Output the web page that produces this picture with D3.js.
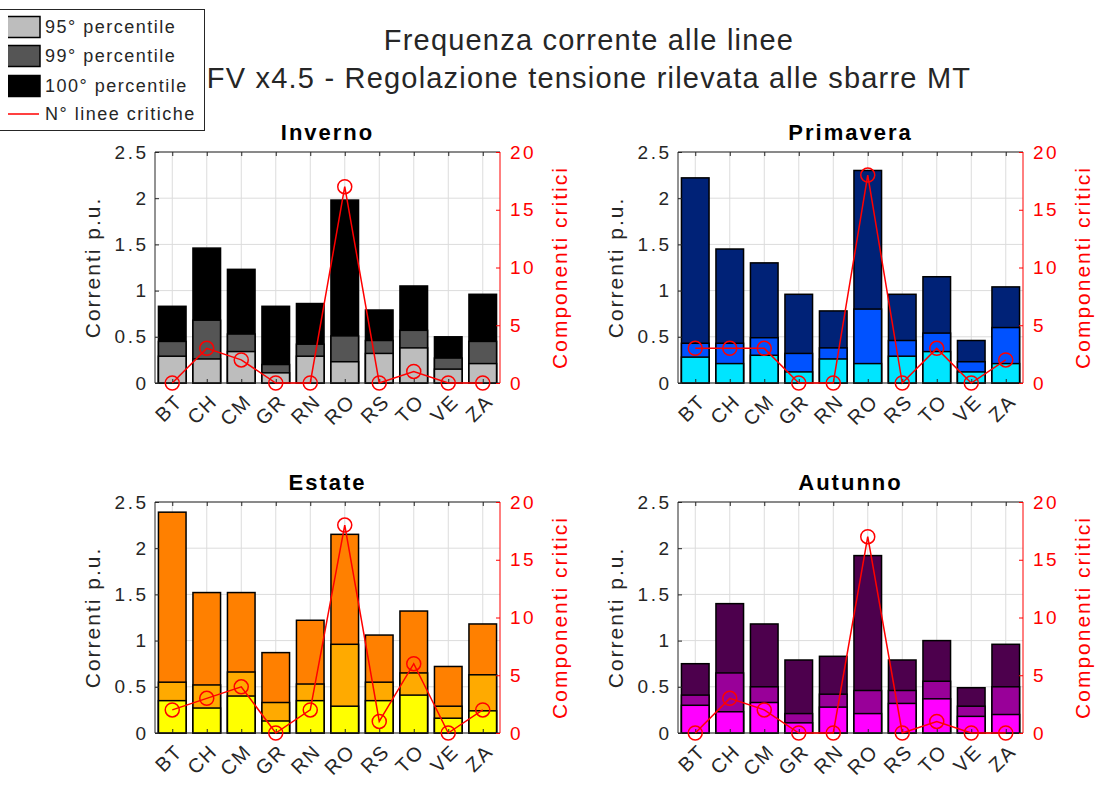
<!DOCTYPE html>
<html>
<head>
<meta charset="utf-8">
<script src="https://cdn.jsdelivr.net/npm/d3@7"></script>
<style>
  body { margin: 0; background: #fff; }
  svg { display: block; }
  text { font-family: "Liberation Sans", Arial, Helvetica, sans-serif; fill: #262626; }
</style>
</head>
<body>
<svg id="chart" width="1099" height="787"></svg>
<script>
// categories and labels
var stations = ["BT", "CH", "CM", "GR", "RN", "RO", "RS", "TO", "VE", "ZA"];
var seasons = ["Inverno", "Primavera", "Estate", "Autunno"];
var yTicks = [0, 0.5, 1, 1.5, 2, 2.5];
var critTicks = [0, 5, 10, 15, 20];
var legendLabels = ["95° percentile", "99° percentile", "100° percentile", "N° linee critiche"];
var titleLines = ["Frequenza corrente alle linee", "FV x4.5 - Regolazione tensione rilevata alle sbarre MT"];

// Inverno
var invP95  = [0.29, 0.26, 0.34, 0.11, 0.29, 0.23, 0.32, 0.38, 0.15, 0.21];
var invP99  = [0.45, 0.68, 0.53, 0.20, 0.42, 0.51, 0.46, 0.57, 0.27, 0.45];
var invP100 = [0.83, 1.46, 1.23, 0.83, 0.86, 1.98, 0.79, 1.05, 0.50, 0.96];
var invCrit = [0, 3, 2, 0, 0, 17, 0, 1, 0, 0];

// Primavera
var priP95  = [0.28, 0.21, 0.30, 0.12, 0.26, 0.21, 0.29, 0.34, 0.12, 0.21];
var priP99  = [0.43, 0.43, 0.49, 0.32, 0.38, 0.80, 0.46, 0.54, 0.23, 0.60];
var priP100 = [2.22, 1.45, 1.30, 0.96, 0.78, 2.30, 0.96, 1.15, 0.46, 1.04];
var priCrit = [3, 3, 3, 0, 0, 18, 0, 3, 0, 2];

// Estate
var estP95  = [0.35, 0.27, 0.40, 0.13, 0.35, 0.29, 0.35, 0.41, 0.16, 0.24];
var estP99  = [0.55, 0.52, 0.66, 0.33, 0.53, 0.96, 0.55, 0.65, 0.29, 0.63];
var estP100 = [2.39, 1.52, 1.52, 0.87, 1.22, 2.15, 1.06, 1.32, 0.72, 1.18];
var estCrit = [2, 3, 4, 0, 2, 18, 1, 6, 0, 2];

// Autunno
var autP95  = [0.30, 0.23, 0.33, 0.11, 0.28, 0.21, 0.32, 0.37, 0.18, 0.20];
var autP99  = [0.41, 0.65, 0.50, 0.21, 0.42, 0.46, 0.46, 0.56, 0.29, 0.50];
var autP100 = [0.75, 1.40, 1.18, 0.79, 0.83, 1.92, 0.79, 1.00, 0.49, 0.96];
var autCrit = [0, 3, 2, 0, 0, 17, 0, 1, 0, 0];

// colours: 95, 99, 100
var invColors = ["#bdbdbd", "#555555", "#000000"];
var priColors = ["#00e5ff", "#0052ff", "#002277"];
var estColors = ["#ffff00", "#ffaa00", "#ff8000"];
var autColors = ["#ff00ff", "#990099", "#4d004d"];

var panels = [
  {title: seasons[0], left: 155, top: 152, p95: invP95, p99: invP99, p100: invP100, crit: invCrit, colors: invColors},
  {title: seasons[1], left: 678, top: 152, p95: priP95, p99: priP99, p100: priP100, crit: priCrit, colors: priColors},
  {title: seasons[2], left: 155, top: 502, p95: estP95, p99: estP99, p100: estP100, crit: estCrit, colors: estColors},
  {title: seasons[3], left: 678, top: 502, p95: autP95, p99: autP99, p100: autP100, crit: autCrit, colors: autColors}
];

var W = 345, H = 231;
var axisColor = "#262626";
var red = "#ff0000";
var svg = d3.select("#chart");

function drawPanel(p) {
  var g = svg.append("g").attr("transform", "translate(" + p.left + "," + p.top + ")");

  var x = d3.scaleLinear().domain([0.5, stations.length + 0.5]).range([0, W]);
  var y = d3.scaleLinear().domain([0, 2.5]).range([H, 0]);
  var yR = d3.scaleLinear().domain([0, 20]).range([H, 0]);
  var pos = d3.range(1, stations.length + 1);

  // grid
  g.selectAll(".gx").data(pos).enter().append("line")
    .attr("x1", d => x(d)).attr("x2", d => x(d))
    .attr("y1", 0).attr("y2", H)
    .attr("stroke", "#dcdcdc").attr("stroke-width", 1);
  g.selectAll(".gy").data(yTicks).enter().append("line")
    .attr("x1", 0).attr("x2", W)
    .attr("y1", d => y(d)).attr("y2", d => y(d))
    .attr("stroke", "#dcdcdc").attr("stroke-width", 1);

  // bars, overlaid: 100 then 99 then 95
  var bw = x(1.4) - x(0.6);
  var layers = [[p.p100, p.colors[2]], [p.p99, p.colors[1]], [p.p95, p.colors[0]]];
  layers.forEach(function(l) {
    g.selectAll(null).data(l[0]).enter().append("rect")
      .attr("x", (d, i) => x(i + 1) - bw / 2)
      .attr("width", bw)
      .attr("y", d => y(d))
      .attr("height", d => H - y(d))
      .attr("fill", l[1])
      .attr("stroke", "#000")
      .attr("stroke-width", 1.5);
  });

  // box
  g.append("line").attr("x1", 0).attr("x2", W).attr("y1", 0).attr("y2", 0).attr("stroke", axisColor);
  g.append("line").attr("x1", 0).attr("x2", W).attr("y1", H).attr("y2", H).attr("stroke", axisColor);
  g.append("line").attr("x1", 0).attr("x2", 0).attr("y1", 0).attr("y2", H).attr("stroke", axisColor);
  g.append("line").attr("x1", W).attr("x2", W).attr("y1", 0).attr("y2", H).attr("stroke", red);

  // left axis
  var la = g.append("g").call(d3.axisLeft(y).tickValues(yTicks).tickFormat(d3.format("")).tickSizeInner(-4).tickSizeOuter(0).tickPadding(9));
  la.select(".domain").remove();
  la.selectAll("line").attr("stroke", axisColor);
  la.selectAll("text").style("font-size", "19px").style("letter-spacing", "2.5px").attr("fill", axisColor).attr("font-family", null)
    .attr("dx", "2.5px");

  // right axis
  var ra = g.append("g").attr("transform", "translate(" + W + ",0)")
    .call(d3.axisRight(yR).tickValues(critTicks).tickSizeInner(-4).tickSizeOuter(0).tickPadding(10));
  ra.select(".domain").remove();
  ra.selectAll("line").attr("stroke", red);
  ra.selectAll("text").style("font-size", "19px").style("letter-spacing", "2.5px").style("fill", red).attr("font-family", null);

  // bottom axis
  var ba = g.append("g").attr("transform", "translate(0," + H + ")")
    .call(d3.axisBottom(x).tickValues(pos).tickFormat((d, i) => stations[i]).tickSizeInner(-4).tickSizeOuter(0));
  ba.select(".domain").remove();
  ba.selectAll("line").attr("stroke", axisColor);
  ba.selectAll("text")
    .attr("x", 0).attr("y", 0).attr("dy", null)
    .attr("text-anchor", "end")
    .attr("dominant-baseline", "central")
    .attr("transform", "translate(6,15) rotate(-45)")
    .attr("font-family", null)
    .style("font-size", "20px").style("letter-spacing", "1.5px");

  // top ticks
  var ta = g.append("g").call(d3.axisTop(x).tickValues(pos).tickFormat("").tickSizeInner(-4).tickSizeOuter(0));
  ta.select(".domain").remove();
  ta.selectAll("line").attr("stroke", axisColor);

  // axis labels
  g.append("text")
    .attr("transform", "translate(-55," + (H / 2) + ") rotate(-90)")
    .attr("text-anchor", "middle")
    .style("font-size", "21px").style("letter-spacing", "2px")
    .text("Correnti p.u.");
  g.append("text")
    .attr("transform", "translate(" + (W + 67) + "," + (H / 2) + ") rotate(-90)")
    .attr("text-anchor", "middle")
    .style("font-size", "21px").style("letter-spacing", "2px")
    .style("fill", red)
    .text("Componenti critici");

  // subplot title
  g.append("text")
    .attr("x", W / 2).attr("y", -12)
    .attr("text-anchor", "middle")
    .style("font-size", "22px").style("font-weight", "bold").style("letter-spacing", "2px")
    .style("fill", "#000")
    .text(p.title);

  // critical lines
  var line = d3.line().x((d, i) => x(i + 1)).y(d => yR(d));
  g.append("path").datum(p.crit)
    .attr("d", line)
    .attr("fill", "none").attr("stroke", red).attr("stroke-width", 1.5);
  g.selectAll(".mk").data(p.crit).enter().append("circle")
    .attr("cx", (d, i) => x(i + 1))
    .attr("cy", d => yR(d))
    .attr("r", 7)
    .attr("fill", "none").attr("stroke", red).attr("stroke-width", 1.5);
}

panels.forEach(drawPanel);

// main title
svg.selectAll(".title").data(titleLines).enter().append("text")
  .attr("x", 589).attr("y", (d, i) => 50 + i * 38)
  .attr("text-anchor", "middle")
  .style("font-size", "29px").style("letter-spacing", "1.2px")
  .text(d => d);

// legend
var lg = svg.append("g");
lg.append("rect").attr("x", -5).attr("y", 9.5).attr("width", 209.5).attr("height", 121)
  .attr("fill", "#fff").attr("stroke", axisColor).attr("stroke-width", 1);
var legRows = [27, 56, 86, 114];
invColors.forEach(function(c, i) {
  lg.append("path")
    .attr("d", "M8," + (legRows[i] - 10.5) + "H40V" + (legRows[i] + 10.5) + "H8")
    .attr("fill", c).attr("stroke", "#000").attr("stroke-width", 1.5);
});
lg.append("line").attr("x1", 8).attr("x2", 39).attr("y1", legRows[3]).attr("y2", legRows[3])
  .attr("stroke", red).attr("stroke-width", 1.5);
lg.selectAll(".lt").data(legendLabels).enter().append("text")
  .attr("x", 45).attr("y", (d, i) => legRows[i])
  .attr("dominant-baseline", "central")
  .style("font-size", "18px").style("letter-spacing", "1.5px")
  .text(d => d);
</script>
</body>
</html>
